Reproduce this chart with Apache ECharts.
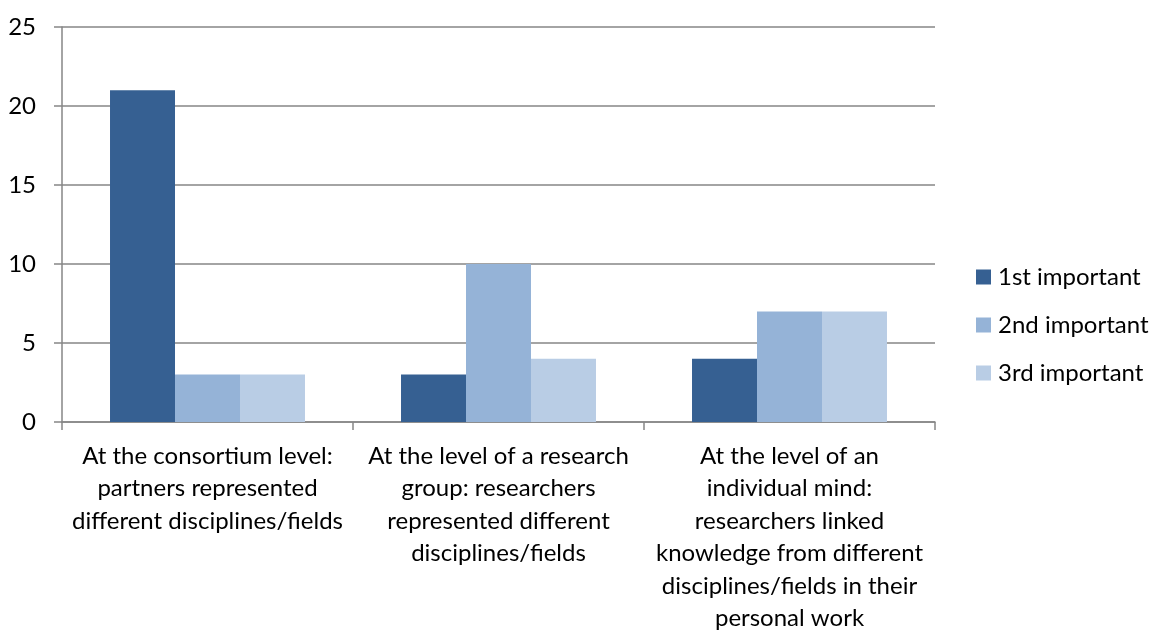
<!DOCTYPE html>
<html>
<head>
<meta charset="utf-8">
<script src="https://cdn.jsdelivr.net/npm/echarts@6/dist/echarts.min.js"></script>
<style>
  html, body { margin: 0; padding: 0; background: #fff; }
  #chart { width: 1159px; height: 630px; }
</style>
</head>
<body>
<div id="chart"></div>
<script>
var categories = [
  "At the consortium level:\npartners represented\ndifferent disciplines/fields",
  "At the level of a research\ngroup: researchers\nrepresented different\ndisciplines/fields",
  "At the level of an\nindividual mind:\nresearchers linked\nknowledge from different\ndisciplines/fields in their\npersonal work"
];
var seriesNames = ["1st important", "2nd important", "3rd important"];
var first = [21, 3, 4];
var second = [3, 10, 7];
var third = [3, 4, 7];
var colors = ["#366092", "#95B3D7", "#B9CDE5"];

var font = "Lato";
var chart = echarts.init(document.getElementById("chart"));
var option = {
  animation: false,
  textStyle: { fontFamily: font },
  grid: { left: 62, right: 224, top: 27, bottom: 208, outerBoundsMode: "none" },
  legend: {
    orient: "vertical",
    left: 971,
    top: 260,
    itemWidth: 15,
    itemHeight: 15,
    itemGap: 24,
    icon: "rect",
    textStyle: { fontSize: 24, color: "#000", fontFamily: font, padding: [0, 0, 0, 2] },
    data: seriesNames
  },
  xAxis: {
    type: "category",
    data: categories,
    axisLine: { lineStyle: { color: "#868686", width: 1.5 } },
    axisTick: { show: true, length: 8, interval: 0, lineStyle: { color: "#868686", width: 1.5 } },
    axisLabel: { interval: 0, fontSize: 24, color: "#000", lineHeight: 32.5, margin: 18, fontFamily: font }
  },
  yAxis: {
    type: "value",
    min: 0,
    max: 25,
    interval: 5,
    axisLine: { show: true, lineStyle: { color: "#868686", width: 1.5 } },
    axisTick: { show: true, length: 8, lineStyle: { color: "#868686", width: 1.5 } },
    axisLabel: { fontSize: 24, color: "#000", margin: 26, fontFamily: font },
    splitLine: { lineStyle: { color: "#868686", width: 1.5 } }
  },
  series: [
    { name: seriesNames[0], type: "bar", data: first, itemStyle: { color: colors[0] }, barGap: "0%", barCategoryGap: "33%" },
    { name: seriesNames[1], type: "bar", data: second, itemStyle: { color: colors[1] } },
    { name: seriesNames[2], type: "bar", data: third, itemStyle: { color: colors[2] } }
  ]
};
chart.setOption(option);
</script>
</body>
</html>
